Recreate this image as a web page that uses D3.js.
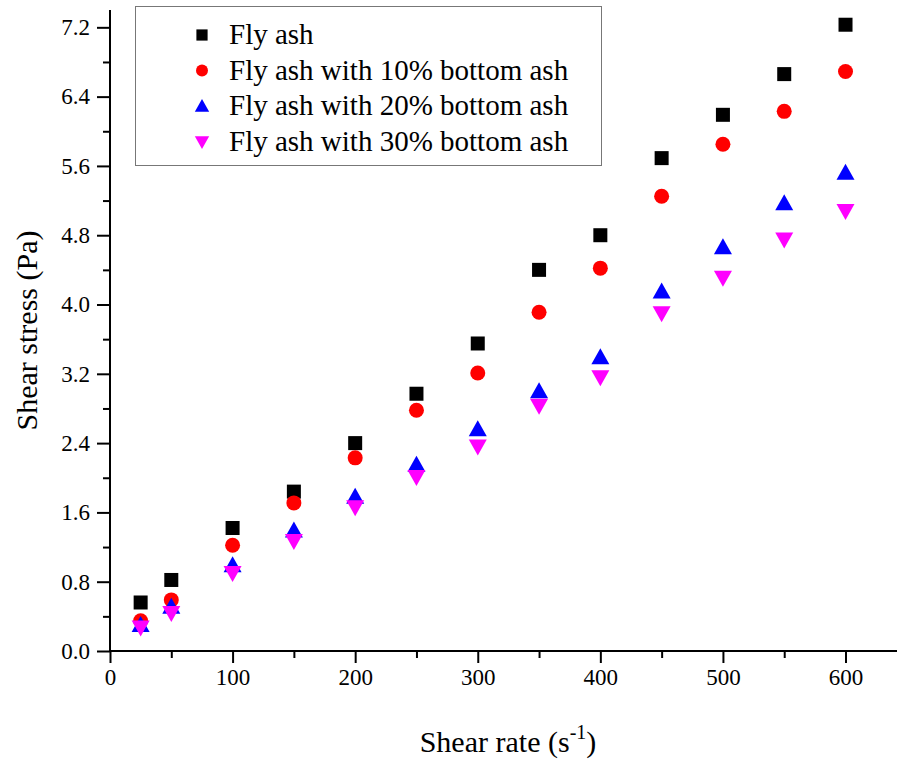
<!DOCTYPE html>
<html><head><meta charset="utf-8">
<script src="https://cdn.jsdelivr.net/npm/d3@7"></script>
<style>body{margin:0;background:#fff}svg{display:block}text{font-family:"Liberation Serif","Times New Roman",serif;fill:#000}</style>
</head><body><svg id="c" width="897" height="762"></svg>
<script>
const shearRate = [25,50,100,150,200,250,300,350,400,450,500,550,600];
const flyAsh    = [0.56,0.82,1.42,1.84,2.40,2.97,3.55,4.40,4.80,5.69,6.19,6.66,7.23];
const ba10      = [0.35,0.59,1.22,1.71,2.23,2.78,3.21,3.91,4.42,5.25,5.85,6.23,6.69];
const ba20      = [0.30,0.51,0.99,1.39,1.78,2.15,2.56,3.00,3.39,4.15,4.66,5.17,5.52];
const ba30      = [0.27,0.44,0.90,1.27,1.66,2.01,2.36,2.83,3.16,3.90,4.31,4.75,5.08];
const seriesNames = ["Fly ash","Fly ash with 10% bottom ash","Fly ash with 20% bottom ash","Fly ash with 30% bottom ash"];
const xTicks = [0,100,200,300,400,500,600];
const yTicks = [0.0,0.8,1.6,2.4,3.2,4.0,4.8,5.6,6.4,7.2];

const svg = d3.select("#c");
const L=110, R=897, T=10, B=651;
const x = d3.scaleLinear().domain([0,642]).range([L,R]);
const y = d3.scaleLinear().domain([0,7.4]).range([B,T]);

const series = [
  {name:seriesNames[0], vals:flyAsh, color:"#000000", sym:"square"},
  {name:seriesNames[1], vals:ba10, color:"#ff0000", sym:"circle"},
  {name:seriesNames[2], vals:ba20, color:"#0000ff", sym:"up"},
  {name:seriesNames[3], vals:ba30, color:"#ff00ff", sym:"down"}
];
function marker(g, sym, color){
  if(sym==="square") g.append("rect").attr("x",-7).attr("y",-7).attr("width",14).attr("height",14).attr("fill",color);
  else if(sym==="circle") g.append("circle").attr("r",7.5).attr("fill",color);
  else if(sym==="up") g.append("path").attr("d","M0,-9L9,7L-9,7Z").attr("fill",color);
  else g.append("path").attr("d","M0,9L9,-7L-9,-7Z").attr("fill",color);
}

// axes
const xAxis = d3.axisBottom(x).tickValues(xTicks).tickFormat(d3.format("d")).tickSize(12).tickPadding(6);
const gx = svg.append("g").attr("transform",`translate(0,${B})`).call(xAxis);
gx.select(".domain").attr("stroke-width",2).attr("d",`M${L},0H${R}`);
gx.selectAll(".tick line").attr("stroke-width",2);
gx.selectAll("text").attr("font-size",23).attr("font-family","Liberation Serif");
const xMinor = d3.axisBottom(x).tickValues([50,150,250,350,450,550]).tickSize(7).tickFormat("");
const gxm = svg.append("g").attr("transform",`translate(0,${B})`).call(xMinor);
gxm.select(".domain").remove(); gxm.selectAll("line").attr("stroke-width",2);

const yAxis = d3.axisLeft(y).tickValues(yTicks).tickFormat(d3.format(".1f")).tickSize(13).tickPadding(7);
const gy = svg.append("g").attr("transform",`translate(${L},0)`).call(yAxis);
gy.select(".domain").attr("stroke-width",2).attr("d",`M0,${B}V${T}`);
gy.selectAll(".tick line").attr("stroke-width",2);
gy.selectAll("text").attr("font-size",23).attr("font-family","Liberation Serif");
const yMinor = d3.axisLeft(y).tickValues([0.4,1.2,2.0,2.8,3.6,4.4,5.2,6.0,6.8]).tickSize(7).tickFormat("");
const gym = svg.append("g").attr("transform",`translate(${L},0)`).call(yMinor);
gym.select(".domain").remove(); gym.selectAll("line").attr("stroke-width",2);

// points
series.forEach(s=>{
  s.vals.forEach((v,i)=>{
    const g = svg.append("g").attr("transform",`translate(${x(shearRate[i])},${y(v)})`);
    marker(g, s.sym, s.color);
  });
});

// legend
svg.append("rect").attr("x",135.5).attr("y",6.5).attr("width",466).attr("height",159)
  .attr("fill","#fff").attr("stroke","#777").attr("stroke-width",1);
series.forEach((s,i)=>{
  const cy = 35 + i*35.6;
  const g = svg.append("g").attr("transform",`translate(202,${cy}) scale(0.8)`);
  marker(g, s.sym, s.color);
  svg.append("text").attr("x",229).attr("y",cy+9).attr("font-size",29).text(s.name);
});

// axis titles
svg.append("text").attr("transform",`translate(37,${(T+B)/2}) rotate(-90)`).attr("text-anchor","middle")
  .attr("font-size",30).text("Shear stress (Pa)");
const xt = svg.append("text").attr("x",508).attr("y",752).attr("text-anchor","middle").attr("font-size",30);
xt.append("tspan").text("Shear rate (s");
xt.append("tspan").attr("dy",-13).attr("font-size",20).text("-1");
xt.append("tspan").attr("dy",13).text(")");
</script></body></html>
